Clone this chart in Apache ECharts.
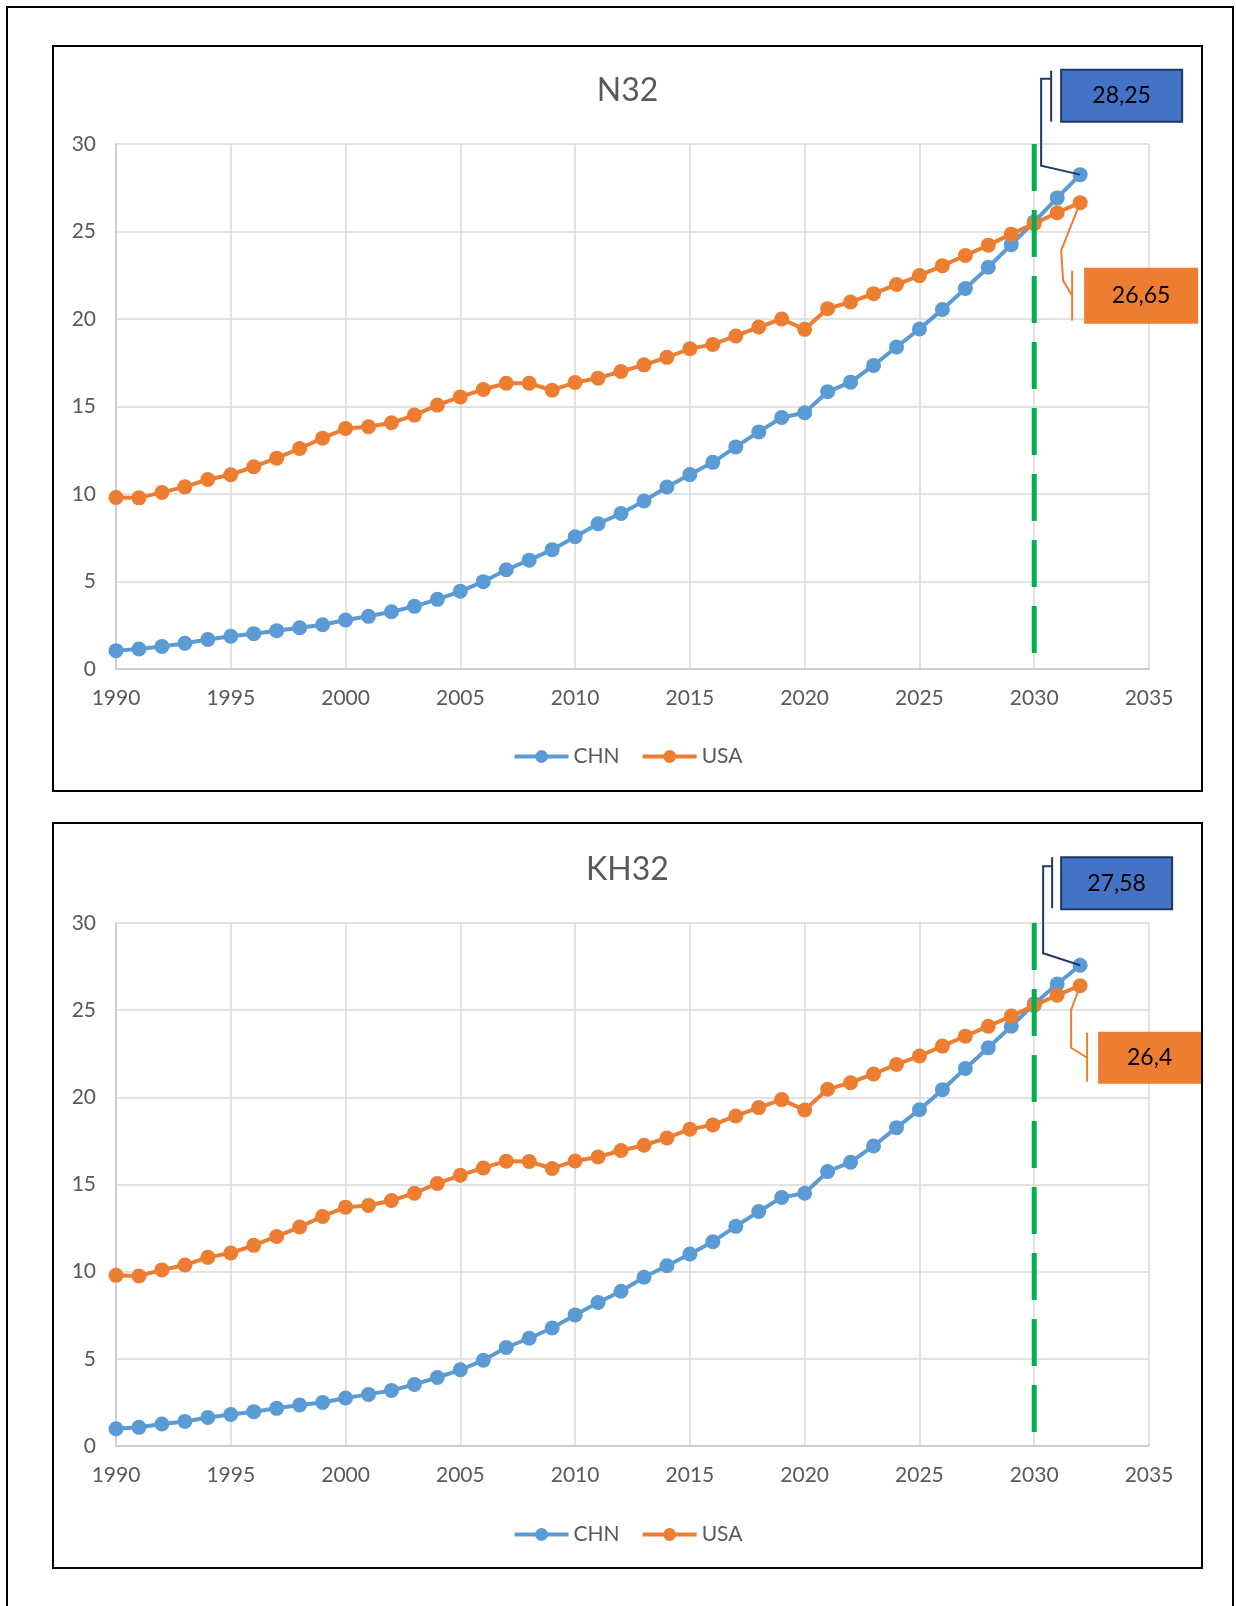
<!DOCTYPE html>
<html>
<head>
<meta charset="utf-8">
<script src="https://cdn.jsdelivr.net/npm/echarts/dist/echarts.min.js"></script>
<style>
  html, body { margin: 0; padding: 0; background: #fff; overflow: hidden; }
  #frame {
    position: absolute; left: 6px; top: 6px; width: 1228px; height: 1610px;
    border: 2px solid #000; box-sizing: border-box;
  }
  .box {
    position: absolute; left: 52px; width: 1151px; height: 747px;
    border: 2px solid #000; box-sizing: border-box;
  }
  .box > div { width: 100%; height: 100%; }
</style>
</head>
<body>
<div id="frame"></div>
<div class="box" style="top:45px"><div id="chartN32"></div></div>
<div class="box" style="top:822px"><div id="chartKH32"></div></div>

<script>
// years on the x axis
const years = [
  1990, 1991, 1992, 1993, 1994, 1995, 1996, 1997, 1998, 1999,
  2000, 2001, 2002, 2003, 2004, 2005, 2006, 2007, 2008, 2009,
  2010, 2011, 2012, 2013, 2014, 2015, 2016, 2017, 2018, 2019,
  2020, 2021, 2022, 2023, 2024, 2025, 2026, 2027, 2028, 2029,
  2030, 2031, 2032
]

// N32
const chnN32 = [
  1.05, 1.14, 1.29, 1.47, 1.69, 1.87, 2.02, 2.19, 2.36, 2.53,
  2.80, 3.01, 3.27, 3.58, 3.98, 4.44, 4.99, 5.67, 6.22, 6.82,
  7.56, 8.30, 8.89, 9.60, 10.40, 11.11, 11.81, 12.69, 13.55, 14.37,
  14.64, 15.84, 16.39, 17.35, 18.40, 19.43, 20.55, 21.74, 22.96, 24.25,
  25.55, 26.92, 28.25
]
const usaN32 = [
  9.80, 9.78, 10.09, 10.41, 10.83, 11.10, 11.56, 12.05, 12.60, 13.19,
  13.74, 13.84, 14.07, 14.51, 15.08, 15.55, 15.97, 16.33, 16.33, 15.93,
  16.37, 16.62, 17.00, 17.38, 17.81, 18.30, 18.55, 19.03, 19.54, 20.00,
  19.41, 20.59, 20.97, 21.45, 21.97, 22.48, 23.05, 23.63, 24.22, 24.85,
  25.45, 26.07, 26.65
]

// KH32
const chnKH32 = [
  0.99, 1.07, 1.26, 1.41, 1.64, 1.81, 1.97, 2.16, 2.35, 2.50,
  2.75, 2.96, 3.19, 3.53, 3.93, 4.37, 4.92, 5.65, 6.18, 6.77,
  7.52, 8.23, 8.88, 9.68, 10.34, 11.01, 11.72, 12.60, 13.45, 14.26,
  14.50, 15.74, 16.28, 17.21, 18.26, 19.29, 20.44, 21.66, 22.84, 24.08,
  25.36, 26.50, 27.58
]
const usaKH32 = [
  9.79, 9.75, 10.10, 10.38, 10.82, 11.07, 11.51, 12.02, 12.56, 13.17,
  13.70, 13.80, 14.08, 14.50, 15.06, 15.53, 15.95, 16.34, 16.32, 15.92,
  16.35, 16.58, 16.95, 17.25, 17.67, 18.17, 18.42, 18.93, 19.41, 19.87,
  19.27, 20.46, 20.84, 21.34, 21.89, 22.37, 22.94, 23.51, 24.08, 24.66,
  25.27, 25.86, 26.40
]

// vertical marker year
const markYear = 2030

const FONT = 'Lato, "Open Sans", sans-serif'
const GREY = '#595959'
const BLUE = '#5B9BD5'
const ORANGE = '#ED7D31'

const fmt = (v) => String(v).replace('.', ',')

// callout geometry, relative to the last data point
const calloutsN32 = {
  chn: { line: [[-39, -9], [-39, -96], [-29, -96]], bar: [-29, -104, -53], box: [-19, -105, 121, 52] },
  usa: { line: [[-19, 48], [-17, 78], [-8, 93]], bar: [-8, 68, 118], box: [5, 66, 112, 54] }
}
const calloutsKH32 = {
  chn: { line: [[-37, -12], [-37, -99], [-28, -99]], bar: [-28, -108, -57], box: [-19, -108, 111, 52] },
  usa: { line: [[-9, 24], [-9, 62], [7, 72]], bar: [7, 47, 96], box: [19, 47, 101, 50] }
}

function buildChart (domId, title, chn, usa, gridTop, gridHeight, titleTop, legendTop, callouts) {
  const chart = echarts.init(document.getElementById(domId))
  const lineSeries = (name, data, color) => ({
    name,
    type: 'line',
    data: years.map((y, i) => [y, data[i]]),
    symbol: 'circle',
    symbolSize: 15,
    itemStyle: { color },
    lineStyle: { color, width: 4 },
    z: 3
  })

  chart.setOption({
    animation: false,
    title: {
      text: title,
      left: 'center',
      top: titleTop,
      textStyle: { fontFamily: FONT, fontSize: 32, fontWeight: 'normal', color: GREY }
    },
    legend: {
      data: ['CHN', 'USA'],
      left: 'center',
      top: legendTop,
      itemWidth: 54,
      itemHeight: 16,
      itemGap: 21,
      lineStyle: { width: 4 },
      textStyle: { fontFamily: FONT, fontSize: 21, color: GREY }
    },
    grid: { left: 62, top: gridTop, width: 1033, height: gridHeight },
    xAxis: {
      type: 'value',
      min: 1990,
      max: 2035,
      interval: 5,
      axisLine: { show: true, lineStyle: { color: '#C8C8C8', width: 1.5 } },
      axisTick: { show: false },
      splitLine: { show: true, lineStyle: { color: '#D9D9D9', width: 1.5 } },
      axisLabel: { fontFamily: FONT, fontSize: 21, color: GREY, margin: 19, formatter: (v) => String(v) }
    },
    yAxis: {
      type: 'value',
      min: 0,
      max: 30,
      interval: 5,
      axisLine: { show: true, lineStyle: { color: '#C8C8C8', width: 1.5 } },
      axisTick: { show: false },
      splitLine: { show: true, lineStyle: { color: '#D9D9D9', width: 1.5 } },
      axisLabel: { fontFamily: FONT, fontSize: 21, color: GREY, margin: 20 }
    },
    series: [
      lineSeries('CHN', chn, BLUE),
      lineSeries('USA', usa, ORANGE),
      {
        name: 'marker',
        type: 'line',
        data: [[markYear, 30], [markYear, 0]],
        symbol: 'none',
        silent: true,
        lineStyle: { color: '#00B050', width: 5, type: [47, 19] },
        z: 5
      }
    ]
  })

  // callouts anchored on the last point of each series
  const last = years.length - 1
  const makeCallout = (spec, value, lineColor, fill, border) => {
    const p = chart.convertToPixel({ xAxisIndex: 0, yAxisIndex: 0 }, [years[last], value])
    const pts = [[p[0], p[1]]].concat(spec.line.map(([dx, dy]) => [p[0] + dx, p[1] + dy]))
    const [bx, by, bw, bh] = spec.box
    return [
      { type: 'polyline', z: 10, shape: { points: pts }, style: { stroke: lineColor, lineWidth: 2, fill: null } },
      { type: 'line', z: 10, shape: { x1: p[0] + spec.bar[0], y1: p[1] + spec.bar[1], x2: p[0] + spec.bar[0], y2: p[1] + spec.bar[2] }, style: { stroke: lineColor, lineWidth: 2 } },
      { type: 'rect', z: 10, shape: { x: p[0] + bx, y: p[1] + by, width: bw, height: bh }, style: { fill, stroke: border, lineWidth: 2 } },
      { type: 'text', z: 11, style: { text: fmt(value), x: p[0] + bx + bw / 2, y: p[1] + by + bh / 2, align: 'center', verticalAlign: 'middle', font: '23px ' + FONT, fill: '#000' } }
    ]
  }

  chart.setOption({
    graphic: [].concat(
      makeCallout(callouts.chn, chn[last], '#1F3864', '#4472C4', '#1F3864'),
      makeCallout(callouts.usa, usa[last], ORANGE, ORANGE, ORANGE)
    )
  })
  return chart
}

buildChart('chartN32', 'N32', chnN32, usaN32, 97, 525, 23, 694, calloutsN32)
buildChart('chartKH32', 'KH32', chnKH32, usaKH32, 99, 523, 25, 695, calloutsKH32)
</script>
</body>
</html>
